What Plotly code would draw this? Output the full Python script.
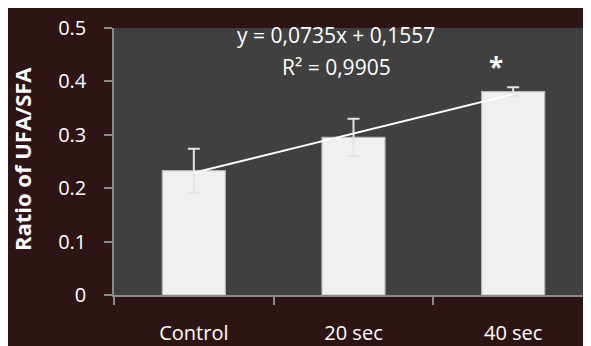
import plotly.graph_objects as go

categories = ["Control", "20 sec", "40 sec"]
ratio_values = [0.233, 0.295, 0.381]
error_values = [0.041, 0.035, 0.008]
trend_values = [0.229, 0.303, 0.376]
y_tick_values = [0, 0.1, 0.2, 0.3, 0.4, 0.5]
y_tick_labels = ["0", "0.1", "0.2", "0.3", "0.4", "0.5"]
equation_text = "y = 0,0735x + 0,1557"
r2_text = "R² = 0,9905"
y_title = "Ratio of UFA/SFA"

FONT = "Open Sans"

fig = go.Figure()

fig.add_trace(go.Bar(
    x=categories,
    y=ratio_values,
    width=0.395,
    marker=dict(color="#f0f0f0", line=dict(color="#b8b8b8", width=1.2)),
    error_y=dict(type="data", array=error_values, visible=True,
                 color="#e4e4e4", thickness=2, width=6),
    showlegend=False,
))

fig.add_trace(go.Scatter(
    x=categories,
    y=trend_values,
    mode="lines",
    line=dict(color="white", width=2),
    showlegend=False,
))

# the page shows the figure offset by the 8px body margin
W, H = 591, 346
L, R, T, B = 106, 6, 14, 59
PW, PH = W - L - R, H - T - B


def px(x):
    return (x - L) / PW


def py(y):
    return (H - B - y) / PH


fig.update_layout(
    width=W, height=H,
    margin=dict(l=L, r=R, t=T, b=B, pad=0),
    paper_bgcolor="#2e1414",
    plot_bgcolor="#404040",
    bargap=0.6,
    font=dict(family=FONT, color="white", size=20),
    xaxis=dict(
        range=[-0.5, 2.5],
        showgrid=False, zeroline=False,
        showline=True, linecolor="#8a8a8a", linewidth=1.5,
        ticks="outside", tickson="boundaries", ticklen=8, tickcolor="#8a8a8a", tickwidth=1.5,
        tickfont=dict(family=FONT, size=20, color="white"),
        ticklabelstandoff=19,
    ),
    yaxis=dict(
        range=[0, 0.5],
        tickvals=y_tick_values, ticktext=y_tick_labels,
        showgrid=False, zeroline=False,
        showline=True, linecolor="#8a8a8a", linewidth=1.5,
        ticks="outside", ticklen=8, tickcolor="#8a8a8a", tickwidth=1.5,
        tickfont=dict(family=FONT, size=20, color="white"),
        ticklabelstandoff=14,
    ),
    annotations=[
        dict(text=equation_text, xref="paper", yref="paper",
             x=px(328), y=py(21), showarrow=False,
             xanchor="center", yanchor="middle",
             font=dict(family=FONT, size=21, color="white")),
        dict(text=r2_text, xref="paper", yref="paper",
             x=px(328), y=py(54), showarrow=False,
             xanchor="center", yanchor="middle",
             font=dict(family=FONT, size=21, color="white")),
        dict(text="<b>*</b>", x="40 sec", y=0.40, xref="x", yref="y", showarrow=False,
             xshift=-17, yshift=-6, yanchor="bottom",
             font=dict(family=FONT, size=26, color="white")),
        dict(text="<b>" + y_title + "</b>", xref="paper", yref="paper",
             x=px(14), y=py(148), showarrow=False, textangle=-90,
             xanchor="center", yanchor="middle",
             font=dict(family=FONT, size=22, color="white")),
    ],
)

fig.write_html("out.html")
